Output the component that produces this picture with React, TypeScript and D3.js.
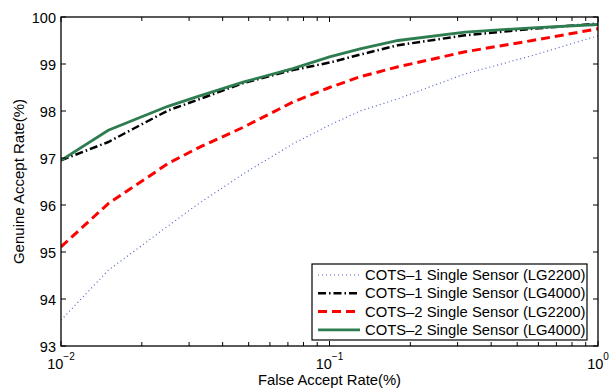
import React from "react";
import * as d3 from "d3";

const far = [0.01, 0.015, 0.025, 0.032, 0.048, 0.073, 0.1, 0.13, 0.18, 0.32, 0.57, 1];
const cots1LG2200 = [93.55, 94.61, 95.55, 96.0, 96.67, 97.3, 97.7, 98.0, 98.26, 98.79, 99.18, 99.6];
const cots1LG4000 = [96.95, 97.34, 98.01, 98.23, 98.6, 98.87, 99.03, 99.2, 99.4, 99.61, 99.75, 99.86];
const cots2LG2200 = [95.11, 96.03, 96.88, 97.2, 97.66, 98.19, 98.5, 98.73, 98.94, 99.26, 99.5, 99.75];
const cots2LG4000 = [96.95, 97.59, 98.1, 98.3, 98.62, 98.9, 99.15, 99.32, 99.5, 99.68, 99.77, 99.84];
const seriesNames = [
  "COTS\u20131 Single Sensor (LG2200)",
  "COTS\u20131 Single Sensor (LG4000)",
  "COTS\u20132 Single Sensor (LG2200)",
  "COTS\u20132 Single Sensor (LG4000)",
];
const yTicks = [93, 94, 95, 96, 97, 98, 99, 100];
const xMajorExps = [-2, -1, 0];

const styles = [
  { color: "#5263bd", width: 1.2, dash: "1,3" },
  { color: "#000000", width: 2.5, dash: "8,3,1.5,3" },
  { color: "#ff0000", width: 3, dash: "9,5" },
  { color: "#2e7d50", width: 2.8, dash: "" },
];

export default function App() {
  const W = 610, H = 389;
  const L = 61, R = 598, T = 17, B = 346;
  const x = d3.scaleLog().domain([0.01, 1]).range([L, R]);
  const y = d3.scaleLinear().domain([93, 100]).range([B, T]);
  const all = [cots1LG2200, cots1LG4000, cots2LG2200, cots2LG4000];
  const line = d3.line<[number, number]>().x((d) => x(d[0])).y((d) => y(d[1]));
  const minors: number[] = [];
  for (const e of [-2, -1]) for (let k = 2; k <= 9; k++) minors.push(k * Math.pow(10, e));
  const font = "Helvetica, Arial, 'Liberation Sans', sans-serif";
  const lx = 312, ly = 264, lw = 275, lh = 76;
  return (
    <svg width={W} height={H} style={{ position: "absolute", left: 0, top: 0 }} fontFamily={font}>
      <rect x={0} y={0} width={W} height={H} fill="#fff" />
      <defs>
        <clipPath id="clip"><rect x={L} y={T} width={R - L} height={B - T} /></clipPath>
      </defs>
      <g clipPath="url(#clip)">
        {all.map((s, i) => (
          <path key={i} d={line(far.map((f, j) => [f, s[j]]) as [number, number][]) || ""} fill="none"
            stroke={styles[i].color} strokeWidth={styles[i].width} strokeDasharray={styles[i].dash} />
        ))}
      </g>
      <rect x={L} y={T} width={R - L} height={B - T} fill="none" stroke="#000" strokeWidth={1.3} />
      {yTicks.map((t) => (
        <g key={t}>
          <line x1={L} x2={L + 5} y1={y(t)} y2={y(t)} stroke="#000" />
          <line x1={R} x2={R - 5} y1={y(t)} y2={y(t)} stroke="#000" />
          <text x={L - 5} y={y(t) + 6} textAnchor="end" fontSize={14.5}>{t}</text>
        </g>
      ))}
      {xMajorExps.map((e) => (
        <g key={e}>
          <line x1={x(Math.pow(10, e))} x2={x(Math.pow(10, e))} y1={B} y2={B - 5} stroke="#000" />
          <line x1={x(Math.pow(10, e))} x2={x(Math.pow(10, e))} y1={T} y2={T + 5} stroke="#000" />
          <text x={x(Math.pow(10, e))} y={369} textAnchor="middle" fontSize={14.5}>
            10<tspan dy={-9} fontSize={10}>{e === 0 ? "0" : "\u2212" + -e}</tspan>
          </text>
        </g>
      ))}
      {minors.map((m, i) => (
        <g key={i}>
          <line x1={x(m)} x2={x(m)} y1={B} y2={B - 4} stroke="#000" />
          <line x1={x(m)} x2={x(m)} y1={T} y2={T + 4} stroke="#000" />
        </g>
      ))}
      <text x={(L + R) / 2} y={385} textAnchor="middle" fontSize={14.8}>False Accept Rate(%)</text>
      <text transform={`translate(24,${(T + B) / 2}) rotate(-90)`} textAnchor="middle" fontSize={15}>Genuine Accept Rate(%)</text>
      <rect x={lx} y={ly} width={lw} height={lh} fill="#fff" stroke="#000" strokeWidth={1.2} />
      {seriesNames.map((n, i) => {
        const cy = ly + 11 + i * 18.3;
        return (
          <g key={i}>
            <line x1={lx + 6} x2={lx + 48} y1={cy} y2={cy} stroke={styles[i].color}
              strokeWidth={styles[i].width} strokeDasharray={styles[i].dash} />
            <text x={lx + 53} y={cy + 5} fontSize={14.8}>{n}</text>
          </g>
        );
      })}
    </svg>
  );
}
